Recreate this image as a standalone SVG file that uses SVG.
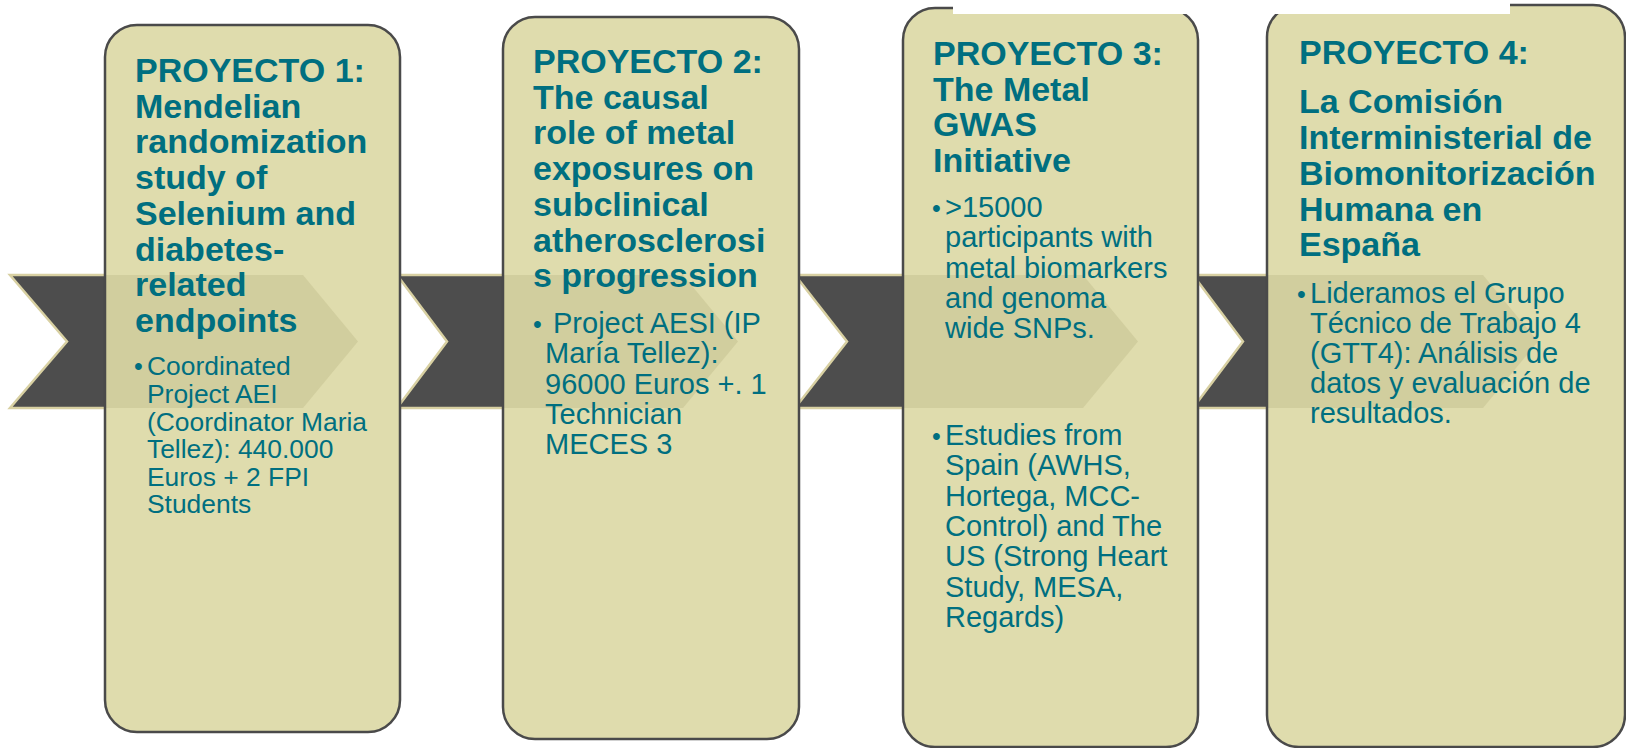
<svg xmlns="http://www.w3.org/2000/svg" width="1626" height="748" viewBox="0 0 1626 748">
<style>
.box{fill:#dfdcad;}
.brd{fill:none;stroke:#4a4a4a;stroke-width:2.5;}
.shade{fill:#cfcb9b;opacity:0.85;}
.chev{fill:#4d4d4d;stroke:#d8d0a2;stroke-width:2.5;stroke-linejoin:miter;}
.h{font-family:"Liberation Sans",Arial,sans-serif;font-weight:bold;font-size:34px;fill:#006f80;}
.b{font-family:"Liberation Sans",Arial,sans-serif;font-size:26.4px;fill:#006f80;}
.b2{font-family:"Liberation Sans",Arial,sans-serif;font-size:29px;fill:#006f80;}
.bul{font-size:25px;}
</style>
<rect width="1626" height="748" fill="#ffffff"/>
<g id="connectors">
<polygon class="chev" points="10,275 303,275 358,341.5 303,408 10,408 67,341.5"/>
<polygon class="chev" points="397,275 683,275 738,341.5 683,408 397,408 447,341.5"/>
<polygon class="chev" points="795,275 1083,275 1138,341.5 1083,408 795,408 847,341.5"/>
<polygon class="chev" points="1193,275 1483,275 1538,341.5 1483,408 1193,408 1243,341.5"/>
</g>
<g id="proyecto1">
<rect class="box" x="105" y="25" width="295" height="707" rx="32"/>
<polygon class="shade" points="106,275 303,275 358,341.5 303,408 106,408"/>
<rect class="brd" x="105" y="25" width="295" height="707" rx="32"/>
<text class="h"><tspan x="135" y="82">PROYECTO 1:</tspan><tspan x="135" y="117.7">Mendelian</tspan><tspan x="135" y="153.4">randomization</tspan><tspan x="135" y="189.1">study of</tspan><tspan x="135" y="224.8">Selenium and</tspan><tspan x="135" y="260.5">diabetes-</tspan><tspan x="135" y="296.2">related</tspan><tspan x="135" y="331.9">endpoints</tspan></text>
<text class="b"><tspan class="bul" x="134" y="375">•</tspan><tspan x="147" y="375">Coordinated</tspan><tspan x="147" y="403">Project AEI</tspan><tspan x="147" y="430.6">(Coordinator Maria</tspan><tspan x="147" y="458.2">Tellez): 440.000</tspan><tspan x="147" y="485.8">Euros + 2 FPI</tspan><tspan x="147" y="513.4">Students</tspan></text>
</g>
<g id="proyecto2">
<rect class="box" x="503" y="17" width="296" height="722" rx="32"/>
<polygon class="shade" points="504,275 683,275 738,341.5 683,408 504,408"/>
<rect class="brd" x="503" y="17" width="296" height="722" rx="32"/>
<text class="h"><tspan x="533" y="73">PROYECTO 2:</tspan><tspan x="533" y="108.7">The causal</tspan><tspan x="533" y="144.4">role of metal</tspan><tspan x="533" y="180.1">exposures on</tspan><tspan x="533" y="215.8">subclinical</tspan><tspan x="533" y="251.5">atherosclerosi</tspan><tspan x="533" y="287.2">s progression</tspan></text>
<text class="b2"><tspan class="bul" x="533" y="333">•</tspan><tspan x="553" y="333">Project AESI (IP</tspan><tspan x="545" y="363.3">María Tellez):</tspan><tspan x="545" y="393.6">96000 Euros +. 1</tspan><tspan x="545" y="423.9">Technician</tspan><tspan x="545" y="454.2">MECES 3</tspan></text>
</g>
<g id="proyecto3">
<rect class="box" x="903" y="8" width="295" height="739" rx="32"/>
<polygon class="shade" points="904,275 1083,275 1138,341.5 1083,408 904,408"/>
<rect class="brd" x="903" y="8" width="295" height="739" rx="32"/>
<text class="h"><tspan x="933" y="65">PROYECTO 3:</tspan><tspan x="933" y="100.5">The Metal</tspan><tspan x="933" y="136">GWAS</tspan><tspan x="933" y="171.5">Initiative</tspan></text>
<text class="b2"><tspan class="bul" x="932" y="217">•</tspan><tspan x="945" y="217">&gt;15000</tspan><tspan x="945" y="247.3">participants with</tspan><tspan x="945" y="277.6">metal biomarkers</tspan><tspan x="945" y="307.9">and genoma</tspan><tspan x="945" y="338.2">wide SNPs.</tspan></text>
<text class="b2"><tspan class="bul" x="932" y="445">•</tspan><tspan x="945" y="445">Estudies from</tspan><tspan x="945" y="475.3">Spain (AWHS,</tspan><tspan x="945" y="505.6">Hortega, MCC-</tspan><tspan x="945" y="535.9">Control) and The</tspan><tspan x="945" y="566.2">US (Strong Heart</tspan><tspan x="945" y="596.5">Study, MESA,</tspan><tspan x="945" y="626.8">Regards)</tspan></text>
</g>
<g id="proyecto4">
<rect class="box" x="1267" y="5" width="358" height="742" rx="32"/>
<polygon class="shade" points="1268,275 1483,275 1538,341.5 1483,408 1268,408"/>
<rect class="brd" x="1267" y="5" width="358" height="742" rx="32"/>
<text class="h"><tspan x="1299" y="64">PROYECTO 4:</tspan><tspan x="1299" y="113">La Comisión</tspan><tspan x="1299" y="149">Interministerial de</tspan><tspan x="1299" y="185">Biomonitorización</tspan><tspan x="1299" y="221">Humana en</tspan><tspan x="1299" y="256">España</tspan></text>
<text class="b2"><tspan class="bul" x="1297" y="303">•</tspan><tspan x="1310" y="303">Lideramos el Grupo</tspan><tspan x="1310" y="333">Técnico de Trabajo 4</tspan><tspan x="1310" y="363">(GTT4): Análisis de</tspan><tspan x="1310" y="393">datos y evaluación de</tspan><tspan x="1310" y="423">resultados.</tspan></text>
</g>
<rect x="953" y="0" width="557" height="14" fill="#ffffff"/>
</svg>
